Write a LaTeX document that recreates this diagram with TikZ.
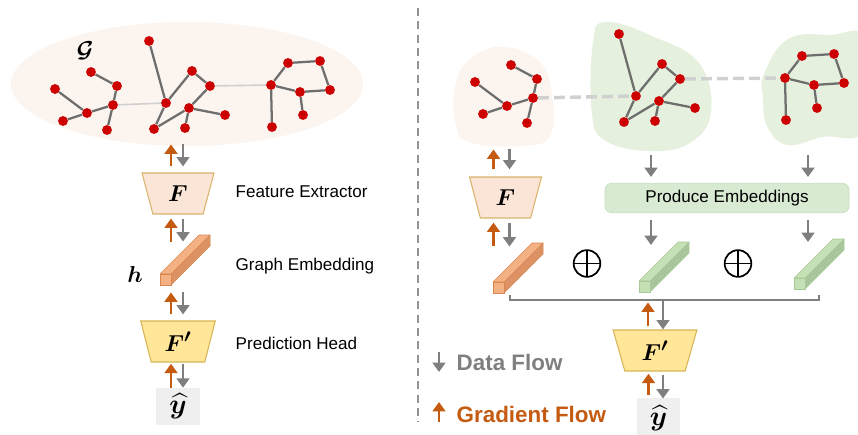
\documentclass[tikz,border=0pt]{standalone}
\usepackage{fontspec}
\setmainfont{Liberation Sans}
\usepackage{amsmath}
\usepackage{bm}
\usepackage{tikz}
\usetikzlibrary{positioning, shapes.geometric, arrows.meta, calc}
\definecolor{dotred}{HTML}{CC0000}
\definecolor{edgegray}{HTML}{6E6E6E}
\definecolor{linkgray}{HTML}{D0D0D0}
\definecolor{peachbg}{HTML}{FCF4EF}
\definecolor{greenbg}{HTML}{E6F0DE}
\definecolor{fpeach}{HTML}{FBE5D6}
\definecolor{fpeachln}{HTML}{D9B46C}
\definecolor{fyellow}{HTML}{FFE699}
\definecolor{fyellowln}{HTML}{D6B656}
\definecolor{barorange}{HTML}{F4B183}
\definecolor{barorangedk}{HTML}{DC9265}
\definecolor{barorangeln}{HTML}{D9874F}
\definecolor{bargreen}{HTML}{C5E0B4}
\definecolor{bargreendk}{HTML}{A8C69A}
\definecolor{bargreenln}{HTML}{A9C99A}
\definecolor{pegreen}{HTML}{D9EAD3}
\definecolor{pegreenln}{HTML}{C6DDBC}
\definecolor{flowgray}{HTML}{7F7F7F}
\definecolor{floworange}{HTML}{C55A11}
\definecolor{outbox}{HTML}{EFEFEF}

\tikzset{
  gnode/.style={circle, fill=dotred, inner sep=0pt, minimum size=7.4pt},
  gedge/.style={draw=edgegray, line width=1.7pt},
  glink/.style={draw=linkgray, line width=1.2pt},
  gdash/.style={draw=linkgray, line width=2.6pt, dash pattern=on 8pt off 4pt},
  dflow/.style={draw=flowgray, line width=2.1pt, -{Triangle[length=7pt,width=9.5pt]}},
  gflow/.style={draw=floworange, line width=2.1pt, -{Triangle[length=7pt,width=9.5pt]}},
  trap/.style={trapezium, shape border rotate=180, trapezium stretches=true,
    trapezium angle=76, minimum height=30.75pt, line width=0.8pt,
    font=\fontsize{19}{21}\selectfont},
  outnode/.style={fill=outbox, inner sep=0pt, font=\fontsize{20}{22}\selectfont},
  oplusnode/.style={circle, draw, line width=1.3pt, minimum size=20pt, inner sep=0pt,
    path picture={\draw[line width=1.3pt]
      (path picture bounding box.north) -- (path picture bounding box.south)
      (path picture bounding box.west) -- (path picture bounding box.east);}},
  desc/.style={anchor=west, font=\fontsize{12.8}{15}\selectfont},
  legend/.style={anchor=west, font=\fontsize{16.8}{20}\selectfont\bfseries},
  pics/treeA/.style={code={
    \node[gnode] (-a) at (91,72) {};
    \node[gnode] (-b) at (117,86) {};
    \node[gnode] (-c) at (55,89) {};
    \node[gnode] (-d) at (113,105) {};
    \node[gnode] (-e) at (87,113) {};
    \node[gnode] (-f) at (63,121) {};
    \node[gnode] (-g) at (107,130) {};
    \foreach \u/\v in {a/b, b/d, c/e, e/d, f/e, d/g}
      \draw[gedge] (-\u) -- (-\v);
  }},
  pics/treeB/.style={code={
    \node[gnode] (-m1) at (149,41) {};
    \node[gnode] (-m2) at (192,71) {};
    \node[gnode] (-m3) at (210,86) {};
    \node[gnode] (-m4) at (166,103) {};
    \node[gnode] (-m5) at (189,108) {};
    \node[gnode] (-m6) at (225,115) {};
    \node[gnode] (-m7) at (154,129) {};
    \node[gnode] (-m8) at (185,128) {};
    \foreach \u/\v in {m1/m4, m4/m2, m2/m3, m3/m5, m5/m6, m5/m7, m4/m7, m5/m8}
      \draw[gedge] (-\u) -- (-\v);
  }},
  pics/treeC/.style={code={
    \node[gnode] (-r1) at (271,85) {};
    \node[gnode] (-r2) at (288,63) {};
    \node[gnode] (-r3) at (320,61) {};
    \node[gnode] (-r4) at (300,92) {};
    \node[gnode] (-r5) at (330,90) {};
    \node[gnode] (-r6) at (303,115) {};
    \node[gnode] (-r7) at (272,127) {};
    \foreach \u/\v in {r1/r2, r2/r3, r3/r5, r5/r4, r4/r1, r4/r6, r1/r7}
      \draw[gedge] (-\u) -- (-\v);
  }},
  pics/embbar/.style n args={3}{code={
    \filldraw[fill=#2, draw=#3, line width=0.5pt, line join=round]
      (11,0) -- (11,-11) -- (50,-50) -- (50,-39) -- cycle;
    \filldraw[fill=#1, draw=#3, line width=0.5pt, line join=round]
      (0,-11) -- (11,-11) -- (50,-50) -- (39,-50) -- cycle;
    \filldraw[fill=#1, draw=#3, line width=0.5pt] (0,0) rectangle (11,-11);
  }}
}

\begin{document}
\begin{tikzpicture}[x=0.75pt, y=-0.75pt]
  \useasboundingbox (0,0) rectangle (858,435);

  % left: whole graph
  \node[ellipse, fill=peachbg, minimum width=264pt, minimum height=93pt] (G) at (187,84) {};
  \node[font=\fontsize{19}{21}\selectfont] (Glabel) at (85,51) {$\bm{\mathcal{G}}$};
  \pic (L1) at (0,0) {treeA};
  \pic (L2) at (0,0) {treeB};
  \pic (L3) at (0,0) {treeC};
  \draw[glink] (L1-d) -- (L2-m4);
  \draw[glink] (L2-m3) -- (L3-r1);

  % left: pipeline
  \node[trap, fill=fpeach, draw=fpeachln, minimum width=54pt] (Fl) at (178,193.5) {$\bm{F}$};
  \pic (hl) at (160,285) {embbar={barorange}{barorangedk}{barorangeln}};
  \node[font=\fontsize{18}{20}\selectfont] (hlabel) at (135,274) {$\bm{h}$};
  \node[trap, fill=fyellow, draw=fyellowln, minimum width=56pt] (Pl) at (178,341.5) {$\bm{F'}$};
  \node[outnode, minimum width=33pt, minimum height=27.75pt] (yl) at (178,406.5) {$\widehat{\bm{y}}$};

  \node[desc] (fe) at (231,192) {Feature Extractor};
  \node[desc] (ge) at (231,266) {Graph Embedding};
  \node[desc] (ph) at (231,343) {Prediction Head};

  \draw[gflow] ($(Fl.north)+(-7,-6)$) -- ++(0,-22);
  \draw[dflow] ($(Fl.north)+(5,-28)$) -- ++(0,22);
  \draw[gflow] ($(Fl.south)+(-7,27)$) -- ++(0,-23);
  \draw[dflow] ($(Fl.south)+(5,4)$) -- ++(0,23);
  \draw[gflow] ($(Pl.north)+(-7,-6)$) -- ++(0,-22);
  \draw[dflow] ($(Pl.north)+(5,-28)$) -- ++(0,22);
  \draw[gflow] ($(yl.north)+(-7,0)$) -- ++(0,-24);
  \draw[dflow] ($(yl.north)+(5,-24)$) -- ++(0,24);

  % divider
  \draw[flowgray!85, line width=1.2pt, dash pattern=on 6pt off 4pt] (418,8) -- (418,422);

  % right: split graph
  \fill[peachbg] plot[smooth cycle, tension=0.7] coordinates
    {(456,82) (474,56) (505,47) (540,62) (552,95) (550,136) (522,146) (472,143) (456,126)};
  \fill[greenbg] plot[smooth cycle, tension=0.7] coordinates
    {(593,42) (606,22) (652,36) (699,63) (711,112) (690,143) (650,151) (606,141) (592,114)};
  \fill[greenbg] plot[smooth cycle, tension=0.7] coordinates
    {(764,74) (788,39) (830,35) (866,40) (866,128) (822,137) (787,145) (767,126) (763,98)};
  \pic (R1) at (420,-7) {treeA};
  \pic (R2) at (470,-7) {treeB};
  \pic (R3) at (514,-7) {treeC};
  \draw[gdash] (R1-d) -- (R2-m4);
  \draw[gdash] (R2-m3) -- (R3-r1);

  % right: pipeline
  \node[trap, fill=fpeach, draw=fpeachln, minimum width=54pt] (Fr) at (505.5,197.5) {$\bm{F}$};
  \node[rounded corners=5pt, fill=pegreen, draw=pegreenln, line width=0.5pt,
    minimum width=183pt, minimum height=22pt, font=\fontsize{12.8}{15}\selectfont] (PE) at (727,198) {Produce Embeddings};
  \pic (hr) at (493,293) {embbar={barorange}{barorangedk}{barorangeln}};
  \pic (e1) at (639,292) {embbar={bargreen}{bargreendk}{bargreenln}};
  \pic (e2) at (794,289) {embbar={bargreen}{bargreendk}{bargreenln}};
  \node[oplusnode] (plus1) at (587,263.5) {};
  \node[oplusnode] (plus2) at (738,263.5) {};
  \coordinate (brL) at (510,295);
  \coordinate (brR) at (819,295);
  \coordinate (brC) at (663,300);
  \draw[flowgray, line width=1.2pt] (brL) |- (brC) -| (brR);
  \node[trap, fill=fyellow, draw=fyellowln, minimum width=63pt] (Pr) at (655,350.5) {$\bm{F'}$};
  \node[outnode, minimum width=32pt, minimum height=30pt] (yr) at (658.5,418) {$\widehat{\bm{y}}$};

  \draw[gflow] ($(Fr.north)+(-12,-7)$) -- ++(0,-20);
  \draw[dflow] ($(Fr.north)+(4,-27)$) -- ++(0,20);
  \draw[gflow] ($(Fr.south)+(-12,27)$) -- ++(0,-23);
  \draw[dflow] ($(Fr.south)+(4,4)$) -- ++(0,24);
  \draw[dflow] ($(PE.north)+(-76,-28)$) -- ++(0,22);
  \draw[dflow] ($(PE.north)+(81,-28)$) -- ++(0,22);
  \draw[dflow] ($(PE.south)+(-76,7)$) -- ++(0,25);
  \draw[dflow] ($(PE.south)+(81,7)$) -- ++(0,22);
  \draw[dflow] (brC) -- (brC |- Pr.north);
  \draw[gflow] ($(Pr.north)+(-7,-3)$) -- ++(0,-24);
  \draw[gflow] ($(yr.north)+(-10,-3)$) -- ++(0,-21);
  \draw[dflow] ($(Pr.south)+(8,3)$) -- ++(0,24);

  % legend
  \coordinate (lgD) at (439,352);
  \coordinate (lgG) at (439,422);
  \draw[dflow] (lgD) -- ++(0,20);
  \draw[gflow] (lgG) -- ++(0,-20);
  \node[legend, text=flowgray] (ldata) at (452,362) {Data Flow};
  \node[legend, text=floworange] (lgrad) at (452,414) {Gradient Flow};
\end{tikzpicture}
\end{document}
